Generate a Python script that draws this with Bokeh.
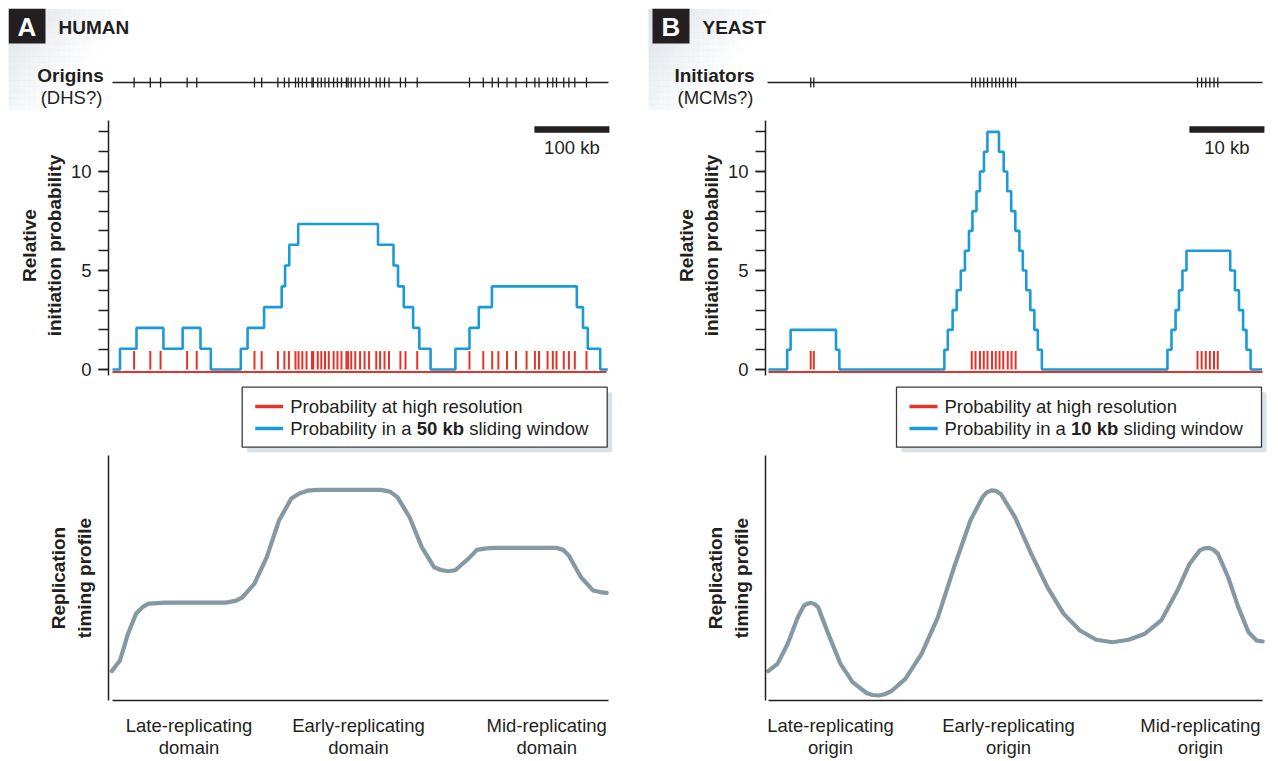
import numpy as np
from bokeh.plotting import figure
from bokeh.models import Range1d, FixedTicker, Label, Spacer
from bokeh.layouts import row, column
from bokeh.embed import file_html
from bokeh.resources import INLINE

FONT = "Liberation Sans"
INK = "#231f20"
RED = "#e2342b"
BLUE = "#1b9ad6"
CURVE = "#8499a3"
REG = "18.5px"
BOLD = "19px"

# ---------------- data : HUMAN (positions in kb) ----------------
human_origins_kb = [28.8, 50.4, 64.1, 99.5, 112.3, 189.3, 198.9, 220.5, 229.2, 235.2,
                    244.0, 248.0, 253.1, 258.7, 266.0, 267.7, 273.7, 278.4, 283.3, 288.4,
                    294.8, 299.9, 305.3, 311.9, 314.1, 318.3, 323.7, 330.1, 336.1, 342.1,
                    351.7, 356.8, 362.7, 368.7, 383.9, 390.7, 406.3, 476.0, 494.4, 506.3,
                    514.5, 526.0, 538.0, 552.1, 563.2, 568.7, 580.1, 587.1, 592.0, 601.7,
                    608.5, 616.4, 632.0]
human_window_x = [0, 10.0, 32.0, 67.9, 93.5, 117.3, 131.1, 171.1, 180.1, 202.1, 225.6,
                  230.1, 235.7, 247.6, 354.0, 374.7, 380.7, 388.4, 400.8, 409.1, 424.1,
                  457.2, 476.0, 488.4, 505.9, 619.1, 627.3, 633.7, 650.3, 660.4]
human_window_y = [0, 1.05, 2.1, 1.05, 2.1, 1.05, 0, 1.05, 2.1, 3.15, 4.2, 5.25, 6.3, 7.35,
                  6.3, 5.25, 4.2, 3.15, 2.1, 1.05, 0, 1.05, 2.1, 3.15, 4.2, 3.15, 2.1,
                  1.05, 0, 0]
human_timing_x = [-1, 9.9, 20.8, 31.6, 40, 48, 60, 69.7, 110, 151.3, 165, 173.1, 189.3,
                  205.7, 222, 238.4, 249, 260, 273, 287.3, 320, 358, 370, 379.9, 396.1,
                  412.4, 428.8, 438, 447.9, 457, 464.1, 475, 485.9, 498, 510.4, 550, 592,
                  601, 608.3, 624.7, 640.9, 650, 658.9]
human_timing_y = [14.1, 18.3, 29.1, 37.1, 39.6, 41.0, 41.2, 41.4, 41.4, 41.4, 42.2, 43.5,
                  49.0, 59.5, 74.1, 82.9, 84.9, 86.0, 86.3, 86.3, 86.3, 86.3, 85.6, 83.4,
                  75.4, 63.5, 55.5, 54.4, 53.9, 54.3, 56.2, 59.0, 62.4, 63.0, 63.2, 63.2,
                  63.2, 62.4, 60.2, 51.5, 46.2, 45.6, 45.3]
human_domain_kb = [102, 328, 579]
human_domain_labels = ["Late-replicating\ndomain", "Early-replicating\ndomain",
                       "Mid-replicating\ndomain"]
human_scale_kb = 100

# ---------------- data : YEAST (positions in kb) ----------------
yeast_origins_kb = [5.63, 6.04, 27.1, 27.6, 28.2, 28.7, 29.2, 29.8, 30.3, 30.8, 31.3,
                    31.9, 32.4, 32.95, 57.2, 57.75, 58.3, 58.85, 59.4, 59.9]
yeast_window_x = [0, 2.49, 2.95, 9.0, 9.45, 23.45, 23.91, 24.55, 25.09, 25.64, 26.19,
                  26.73, 27.19, 27.73, 28.19, 28.73, 29.19, 30.73, 31.36, 31.83, 32.36,
                  32.91, 33.45, 33.91, 34.37, 34.91, 35.45, 35.91, 36.45, 53.19, 53.73,
                  54.28, 54.73, 55.19, 55.73, 61.56, 62.19, 62.73, 63.28, 63.73, 64.28,
                  65.83]
yeast_window_y = [0, 1, 2, 1, 0, 1, 2, 3, 4, 5, 6, 7, 8, 9, 10, 11, 12, 11, 10, 9, 8, 7,
                  6, 5, 4, 3, 2, 1, 0, 1, 2, 3, 4, 5, 6, 5, 4, 3, 2, 1, 0, 0]
yeast_timing_x = [-0.04, 1.2, 2.56, 3.91, 4.72, 5.2, 5.69, 6.15, 6.61, 7.97, 9.6, 11.21,
                  13.11, 13.9, 14.73, 15.5, 16.36, 18.25, 20.41, 22.59, 24.75, 26.92,
                  28.53, 29.1, 29.73, 30.35, 30.97, 32.87, 35.04, 37.2, 39.36, 41.53,
                  43.69, 45.87, 48.03, 50.19, 52.36, 54.52, 56.15, 57.51, 58.1, 58.75,
                  59.35, 59.93, 61.29, 62.64, 64.0, 65.08, 65.89]
yeast_timing_y = [14.1, 17.0, 25.0, 35.6, 40.2, 41.0, 41.3, 40.8, 39.6, 29.0, 17.0, 9.7,
                  5.3, 4.6, 4.4, 4.9, 6.1, 11.0, 21.0, 35.6, 55.5, 74.1, 83.4, 85.3,
                  86.1, 85.9, 84.7, 75.4, 60.8, 47.5, 36.9, 30.3, 26.6, 25.6, 26.6, 29.0,
                  34.3, 46.2, 56.9, 62.2, 63.0, 63.2, 62.4, 60.8, 51.5, 39.6, 29.6, 26.3,
                  25.9]
yeast_origin_kb = [8.27, 32, 57.6]
yeast_origin_labels = ["Late-replicating\norigin", "Early-replicating\norigin",
                       "Mid-replicating\norigin"]
yeast_scale_kb = 10

STEM_TOP = 0.93


def base_fig(w, h, x_range, y_range, **kw):
    p = figure(width=w, height=h, x_range=x_range, y_range=y_range,
               toolbar_location=None, output_backend="svg", outline_line_color=None,
               **kw)
    p.frame_align = False
    p.min_border_left = p.min_border_right = 0
    p.min_border_top = p.min_border_bottom = 0
    p.xgrid.visible = False
    p.ygrid.visible = False
    return p


def blank_fig(w, h, y_range):
    return base_fig(w, h, Range1d(0, w), y_range, x_axis_location=None,
                    y_axis_location=None)


def lab(p, x, y, text, size=REG, style="normal", align="left", color=INK, **kw):
    p.add_layout(Label(x=x, y=y, text=text, text_font=FONT, text_font_size=size,
                       text_font_style=style, text_align=align, text_baseline="middle",
                       text_color=color, **kw))


def header(w, kb_range, box_x, letter, title, name, sub, name_x, origins, line_kb):
    p = blank_fig(w, 102, Range1d(102, 0))
    p.extra_x_ranges = {"kb": Range1d(*kb_range)}
    # soft diagonal gradient behind the panel letter (decoration)
    gx, gy = np.meshgrid(np.arange(28) * 5.0, np.arange(17) * 6.0)
    gx, gy = gx.ravel(), gy.ravel()
    ga = 0.9 * np.clip(1 - (gx + 2.5) / 135 - (gy + 3) / 170, 0, 1) ** 1.2
    keep = ga > 0.01
    left = box_x - 4 + gx[keep]
    p.quad(left=left, right=left + 5.2, top=gy[keep], bottom=gy[keep] + 6.2,
           fill_color="#d6dde3", fill_alpha=ga[keep], line_color=None)
    p.quad(left=[box_x], right=[box_x + 37], top=[0], bottom=[35], fill_color=INK,
           line_color=None)
    lab(p, box_x + 18.5, 18, letter, size="26px", style="bold", align="center",
        color="white")
    lab(p, box_x + 50, 19, title, size=BOLD, style="bold")
    lab(p, name_x, 67, name, size=BOLD, style="bold", align="center")
    lab(p, name_x + 1, 89, sub, size=REG, align="center")
    p.segment(x0=[line_kb[0]], y0=[74], x1=[line_kb[1]], y1=[74], line_color=INK,
              line_width=1.4, x_range_name="kb")
    p.segment(x0=origins, y0=69, x1=origins, y1=79, line_color=INK, line_width=1.3,
              x_range_name="kb")
    return p


def middle(w, left, right, kb_range, sx, sy, origins, base_kb, scale_kb, scale_text):
    p = base_fig(w, 270, Range1d(*kb_range), Range1d(-0.5556, 13.081),
                 x_axis_location=None)
    p.min_border_left = left
    p.min_border_right = right
    ax = p.yaxis[0]
    ax.ticker = FixedTicker(ticks=[0, 5, 10], minor_ticks=list(range(13)))
    ax.bounds = (-0.3, 12.6)
    ax.major_tick_in = 0
    ax.minor_tick_in = 0
    ax.major_tick_out = 10
    ax.minor_tick_out = 10
    for a in ("axis_line", "major_tick_line", "minor_tick_line"):
        setattr(ax, a + "_color", INK)
        setattr(ax, a + "_width", 1.5)
    ax.major_label_text_font = FONT
    ax.major_label_text_font_size = REG
    ax.major_label_text_color = INK
    ax.major_label_standoff = 7
    ax.axis_label = "Relative\ninitiation probability"
    ax.axis_label_text_font = FONT
    ax.axis_label_text_font_size = BOLD
    ax.axis_label_text_font_style = "bold"
    ax.axis_label_text_color = INK
    ax.axis_label_standoff = 3

    p.segment(x0=[base_kb[0]], y0=[-0.12], x1=[base_kb[1]], y1=[-0.12], line_color=RED,
              line_width=2)
    p.segment(x0=origins, y0=0, x1=origins, y1=STEM_TOP, line_color=RED, line_width=2)
    p.step(x=sx, y=sy, mode="after", line_color=BLUE, line_width=2.6)
    end = kb_range[1] - (kb_range[1] - kb_range[0]) * 0.0022
    p.segment(x0=[end - scale_kb], y0=[12.12], x1=[end], y1=[12.12], line_color=INK,
              line_width=6.5, line_cap="butt")
    lab(p, end - scale_kb / 2, 11.22, scale_text, align="center")
    return p


def legend(w, box_x, window_text):
    p = blank_fig(w, 75, Range1d(75, 0))
    p.quad(left=[box_x + 5], right=[box_x + 370], top=[11.7], bottom=[71.7],
           fill_color="#dae1e7", line_color=None)
    p.quad(left=[box_x], right=[box_x + 365], top=[6.7], bottom=[66.7],
           fill_color="white", line_color="#3a3a3a", line_width=1.3)
    p.segment(x0=[box_x + 13], y0=[26], x1=[box_x + 41], y1=[26], line_color=RED,
              line_width=3.5)
    p.segment(x0=[box_x + 13], y0=[48], x1=[box_x + 41], y1=[48], line_color=BLUE,
              line_width=3.5)
    tx = box_x + 48
    lab(p, tx, 26, "Probability at high resolution")
    lab(p, tx, 48, "Probability in a")
    lab(p, tx + 126.5, 48, window_text, style="bold")
    lab(p, tx + 179, 48, "sliding window")
    return p


def bottom(w, left, right, kb_range, tx, ty, ticks, labels, axis_kb):
    p = base_fig(w, 305, Range1d(*kb_range), Range1d(2.4, 100))
    p.min_border_left = left
    p.min_border_right = right
    p.min_border_bottom = 54
    xa = p.xaxis[0]
    xa.ticker = FixedTicker(ticks=ticks)
    xa.major_label_overrides = {t: l for t, l in zip(ticks, labels)}
    xa.major_tick_line_color = None
    xa.minor_tick_line_color = None
    xa.bounds = axis_kb
    xa.axis_line_color = INK
    xa.axis_line_width = 1.5
    xa.major_label_text_font = FONT
    xa.major_label_text_font_size = REG
    xa.major_label_text_color = INK
    xa.major_label_text_line_height = 1.06
    xa.major_label_standoff = 8
    ya = p.yaxis[0]
    ya.ticker = FixedTicker(ticks=[])
    ya.major_tick_line_color = None
    ya.minor_tick_line_color = None
    ya.axis_line_color = INK
    ya.axis_line_width = 1.5
    ya.axis_label = "Replication\ntiming profile"
    ya.axis_label_text_font = FONT
    ya.axis_label_text_font_size = BOLD
    ya.axis_label_text_font_style = "bold"
    ya.axis_label_text_color = INK
    ya.axis_label_standoff = 14
    p.line(x=tx, y=ty, line_color=CURVE, line_width=4.2, line_join="round",
           line_cap="round")
    return p


# ---------------- panel A : human ----------------
WA = 632
topA = header(WA, (-138.667, 704.0), 0, "A", "HUMAN", "Origins", "(DHS?)", 62,
              human_origins_kb, (0, 661.3))
midA = middle(WA, 100, 30, (-5.333, 664.0), human_window_x, human_window_y,
              human_origins_kb, (0, 658.7), human_scale_kb, "100 kb")
legA = legend(WA, 233.7, "50 kb")
botA = bottom(WA, 100, 30, (-5.333, 664.0), human_timing_x, human_timing_y,
              human_domain_kb, human_domain_labels, (0, 661.3))

# ---------------- panel B : yeast ----------------
WB = 630
topB = header(WB, (-17.067, 66.933), 12, "B", "YEAST", "Initiators", "(MCMs?)", 74,
              yeast_origins_kb, (-0.13, 65.87))
midB = middle(WB, 125, 5, (-0.4, 66.267), yeast_window_x, yeast_window_y,
              yeast_origins_kb, (0, 65.87), yeast_scale_kb, "10 kb")
legB = legend(WB, 256, "10 kb")
botB = bottom(WB, 125, 5, (-0.4, 66.267), yeast_timing_x, yeast_timing_y,
              yeast_origin_kb, yeast_origin_labels, (0, 65.9))

layout = column(Spacer(width=10, height=8),
                row(Spacer(width=8, height=10),
                    column(topA, midA, legA, botA),
                    column(topB, midB, legB, botB)))
open("out.html", "w").write(file_html(layout, INLINE))
